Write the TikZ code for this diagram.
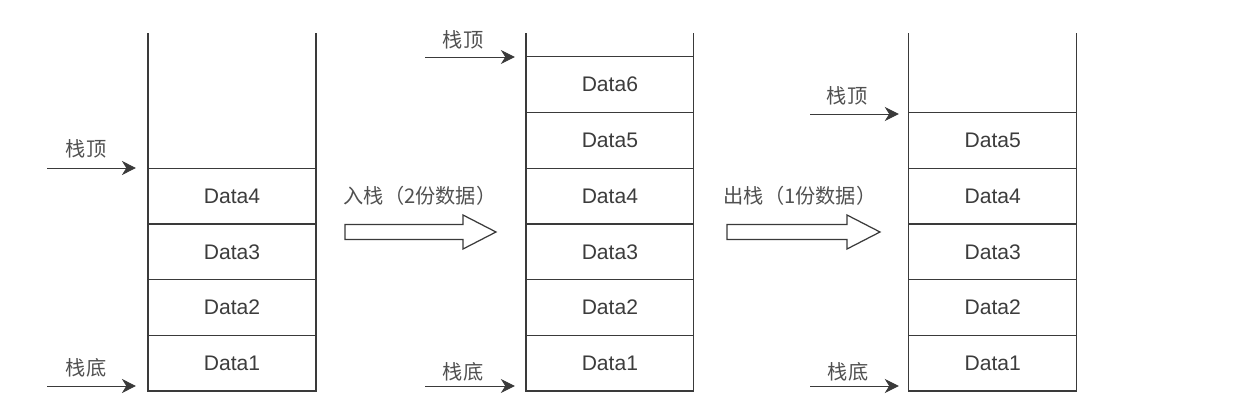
\documentclass[tikz,border=0pt]{standalone}
\usepackage{fontspec}
\setmainfont{Liberation Sans}
\newfontfamily\cjk{Noto Sans CJK SC}
\usepackage{tikz}
\usetikzlibrary{arrows.meta}
\definecolor{linegray}{HTML}{3A3A3A}
\definecolor{textgray}{HTML}{3C3C3C}
\definecolor{labelgray}{HTML}{505050}
\tikzset{
  cell/.style={draw=linegray, line width=0.7pt, minimum width=3.36cm,
    minimum height=1.114cm, inner sep=0pt, outer sep=0pt, anchor=south west,
    font=\fontsize{12}{14}\selectfont, text=textgray},
  ptr/.style={draw=linegray, line width=0.55pt,
    -{Stealth[length=8pt,width=8pt,inset=2.5pt]}},
  lbl/.style={font=\cjk\fontsize{11.5}{13}\selectfont, text=labelgray, inner sep=0pt},
  blockarrow/.style={draw=linegray, line width=0.7pt, fill=white},
}
% one column of cells, bottom at 391px, open at the top up to 33px
\newcommand{\stackcells}[2]{
  \foreach \d [count=\i] in {#2} {
    \node[cell] (#1\i) at (0, {391-(\i-1)*55.7}) {\raisebox{-1.5pt}{Data\d}};
    \pgfextra{\global\let\topcell\i}
  }
  \draw[linegray, line width=0.7pt] (#1\topcell.north west) -- (#1\topcell.north west |- 0,33);
  \draw[linegray, line width=0.7pt] (#1\topcell.north east) -- (#1\topcell.north east |- 0,33);
}
% hollow block arrow: left end, start of head, tip, centre line
\newcommand{\blockarrow}[4]{
  \draw[blockarrow] (#1,#4-7.5) -- (#2,#4-7.5) -- (#2,#4-17) -- (#3,#4)
    -- (#2,#4+17) -- (#2,#4+7.5) -- (#1,#4+7.5) -- cycle;
}

\begin{document}
\begin{tikzpicture}[x=0.02cm, y=-0.02cm]
      \useasboundingbox (0,0) rectangle (1242,412);
      % before
      \begin{scope}[xshift=2.96cm]
        \stackcells{a}{1,2,3,4}
      \end{scope}
      \coordinate (atop) at (47,168);
      \coordinate (abot) at (47,386);
      \draw[ptr, shorten >=0.24cm] (atop) -- (atop -| a4.west);
      \draw[ptr, shorten >=0.24cm] (abot) -- (abot -| a1.west);
      \node[lbl] (atoplbl) at (86,149) {栈顶};
      \node[lbl] (abotlbl) at (86,368) {栈底};
      % push
      \blockarrow{345}{463}{496}{232}
      \node[lbl] (pushlbl) at (420,196) {入栈（2份数据）};
      \begin{scope}[xshift=10.52cm]
        \stackcells{b}{1,2,3,4,5,6}
      \end{scope}
      \coordinate (btop) at (425,57);
      \coordinate (bbot) at (425,386);
      \draw[ptr, shorten >=0.22cm] (btop) -- (btop -| b6.west);
      \draw[ptr, shorten >=0.22cm] (bbot) -- (bbot -| b1.west);
      \node[lbl] (btoplbl) at (463,40) {栈顶};
      \node[lbl] (bbotlbl) at (463,372) {栈底};
      % pop
      \blockarrow{727}{847}{880}{232}
      \node[lbl] (poplbl) at (800,196) {出栈（1份数据）};
      \begin{scope}[xshift=18.18cm]
        \stackcells{c}{1,2,3,4,5}
      \end{scope}
      \coordinate (ctop) at (810,114);
      \coordinate (cbot) at (810,386);
      \draw[ptr, shorten >=0.2cm] (ctop) -- (ctop -| c5.west);
      \draw[ptr, shorten >=0.2cm] (cbot) -- (cbot -| c1.west);
      \node[lbl] (ctoplbl) at (847,96) {栈顶};
      \node[lbl] (cbotlbl) at (848,372) {栈底};
    \end{tikzpicture}
\end{document}
